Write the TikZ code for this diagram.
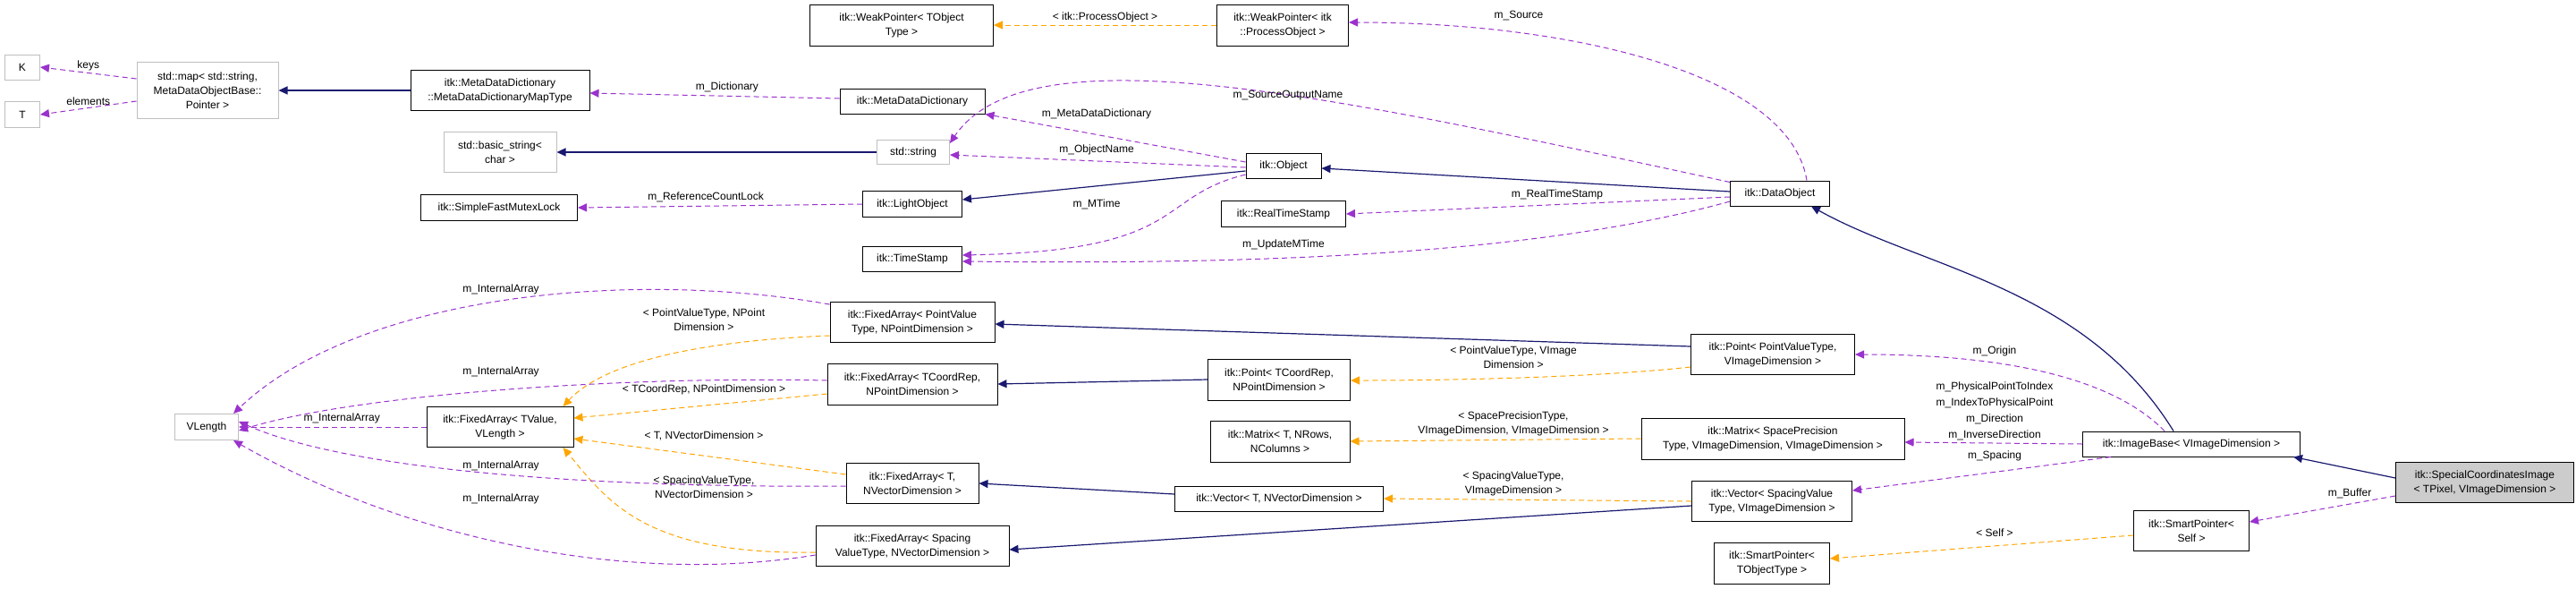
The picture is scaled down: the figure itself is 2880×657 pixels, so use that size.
\documentclass[tikz,border=0pt]{standalone}
\usepackage{fontspec}
\setmainfont{Liberation Sans}
\usetikzlibrary{arrows.meta}
\definecolor{inh}{HTML}{191970}
\definecolor{use}{HTML}{9A32CD}
\definecolor{tpl}{HTML}{FFA500}
\definecolor{gb}{HTML}{BFBFBF}
\begin{document}
\begin{tikzpicture}[x=1pt,y=-1pt,
  every node/.style={font=\fontsize{12}{16}\selectfont, inner sep=0pt, align=center},
  bx/.style={draw=black, line width=1pt, fill=white},
  gbx/.style={draw=gb, line width=1pt, fill=white},
  lbl/.style={fill=none},
  inhe/.style={draw=inh, line width=1.2pt, -{Triangle[length=10pt,width=9pt]}},
  usee/.style={draw=use, line width=1pt, dashed, dash pattern=on 6pt off 4pt, -{Triangle[length=10pt,width=9pt]}},
  tple/.style={draw=tpl, line width=1pt, dashed, dash pattern=on 6pt off 4pt, -{Triangle[length=10pt,width=9pt]}}]
\useasboundingbox (0,0) rectangle (2880,657);
\fill[white] (0,0) rectangle (2880,657);
% nodes
\node[gbx, minimum width=39, minimum height=28] (K) at (25,75) {K};
\node[gbx, minimum width=39, minimum height=29] (T) at (25,128) {T};
\node[gbx, minimum width=158, minimum height=63] (map) at (232,101) {std::map< std::string,\\ MetaDataObjectBase::\\ Pointer >};
\node[bx, minimum width=200, minimum height=45] (mdt) at (559,101) {itk::MetaDataDictionary\\ ::MetaDataDictionaryMapType};
\node[gbx, minimum width=126, minimum height=45] (bstr) at (559,170) {std::basic\_string<\\ char >};
\node[bx, minimum width=175, minimum height=29] (mutex) at (558,232) {itk::SimpleFastMutexLock};
\node[bx, minimum width=205, minimum height=46] (wpt) at (1008,28) {itk::WeakPointer< TObject\\ Type >};
\node[bx, minimum width=147, minimum height=46] (wpp) at (1434,28) {itk::WeakPointer< itk\\ ::ProcessObject >};
\node[bx, minimum width=162, minimum height=28] (mdd) at (1020,113) {itk::MetaDataDictionary};
\node[gbx, minimum width=81, minimum height=27] (str) at (1021,170) {std::string};
\node[bx, minimum width=84, minimum height=28] (obj) at (1435,185) {itk::Object};
\node[bx, minimum width=111, minimum height=29] (light) at (1020,228) {itk::LightObject};
\node[bx, minimum width=139, minimum height=29] (rts) at (1435,239) {itk::RealTimeStamp};
\node[bx, minimum width=111, minimum height=28] (ts) at (1020,289) {itk::TimeStamp};
\node[bx, minimum width=111, minimum height=28] (dobj) at (1990,216) {itk::DataObject};
\node[gbx, minimum width=71, minimum height=29] (vl) at (231,477) {VLength};
\node[bx, minimum width=164, minimum height=45] (fav) at (559,477) {itk::FixedArray< TValue,\\ VLength >};
\node[bx, minimum width=184, minimum height=45] (fapv) at (1020,360) {itk::FixedArray< PointValue\\ Type, NPointDimension >};
\node[bx, minimum width=190, minimum height=46] (facr) at (1020,429) {itk::FixedArray< TCoordRep,\\ NPointDimension >};
\node[bx, minimum width=148, minimum height=45] (fat) at (1020,540) {itk::FixedArray< T,\\ NVectorDimension >};
\node[bx, minimum width=216, minimum height=45] (fasp) at (1020,610) {itk::FixedArray< Spacing\\ ValueType, NVectorDimension >};
\node[bx, minimum width=159, minimum height=46] (pcr) at (1430,424) {itk::Point< TCoordRep,\\ NPointDimension >};
\node[bx, minimum width=156, minimum height=46] (mtx) at (1431,493) {itk::Matrix< T, NRows,\\ NColumns >};
\node[bx, minimum width=233, minimum height=28] (vt) at (1430,557) {itk::Vector< T, NVectorDimension >};
\node[bx, minimum width=183, minimum height=45] (ppv) at (1982,396) {itk::Point< PointValueType,\\ VImageDimension >};
\node[bx, minimum width=294, minimum height=46] (msp) at (1982,490) {itk::Matrix< SpacePrecision\\ Type, VImageDimension, VImageDimension >};
\node[bx, minimum width=179, minimum height=45] (vsp) at (1981,560) {itk::Vector< SpacingValue\\ Type, VImageDimension >};
\node[bx, minimum width=129, minimum height=46] (spt) at (1981,629) {itk::SmartPointer<\\ TObjectType >};
\node[bx, minimum width=243, minimum height=28] (ib) at (2450,496) {itk::ImageBase< VImageDimension >};
\node[bx, fill=gb!80, minimum width=199, minimum height=45] (sci) at (2778,539) {itk::SpecialCoordinatesImage\\ < TPixel, VImageDimension >};
\node[bx, minimum width=129, minimum height=45] (sps) at (2450,593) {itk::SmartPointer<\\ Self >};
% edges
\draw[usee] ([yshift=13pt]map.west) -- (K.east) node[lbl, pos=0.5, above=2pt] {keys};
\draw[usee] ([yshift=-12pt]map.west) -- (T.east) node[lbl, pos=0.5, above=2pt] {elements};
\draw[inhe] (mdt.west) -- (map.east);
\draw[usee] ([yshift=3pt]mdd.west) -- ([yshift=-3pt]mdt.east) node[lbl, pos=0.45, above=4pt] {m\_Dictionary};
\draw[inhe] (str.west) -- (bstr.east);
\draw[usee] (light.west) -- (mutex.east) node[lbl, pos=0.55, above=4pt] {m\_ReferenceCountLock};
\draw[tple] (wpp.west) -- (wpt.east) node[lbl, pos=0.5, above=3pt] {< itk::ProcessObject >};
\draw[usee] ([xshift=30pt]dobj.north) .. controls (2000,80) and (1750,25) .. ([yshift=3pt]wpp.east);
\node[lbl] (lsrc) at (1698,17) {m\_Source};
\draw[usee] ([yshift=-2pt]dobj.north west) .. controls (1500,110) and (1150,30) .. ([yshift=-4pt]str.north east);
\node[lbl] (lson) at (1440,107) {m\_SourceOutputName};
\draw[usee] ([yshift=4pt]obj.west) -- (mdd.south east);
\node[lbl] (lmdd) at (1226,127) {m\_MetaDataDictionary};
\draw[usee] ([yshift=-2pt]obj.west) -- ([yshift=-3pt]str.east);
\node[lbl] (lon) at (1226,167) {m\_ObjectName};
\draw[inhe] ([yshift=-6pt]obj.west) -- ([yshift=5pt]light.east);
\draw[usee] ([yshift=-10pt]obj.west) .. controls (1290,220) and (1330,280) .. ([yshift=4pt]ts.east);
\node[lbl] (lmt) at (1226,228) {m\_MTime};
\draw[inhe] ([yshift=2pt]dobj.west) -- ([yshift=-3pt]obj.east);
\draw[usee] ([yshift=-4pt]dobj.west) -- (rts.east) node[lbl, pos=0.45, above=5pt] {m\_RealTimeStamp};
\draw[usee] ([yshift=-9pt]dobj.west) .. controls (1700,290) and (1350,295) .. ([yshift=-3pt]ts.east);
\node[lbl] (lum) at (1435,273) {m\_UpdateMTime};
\draw[inhe] ([xshift=-20pt]ib.north) .. controls (2330,320) and (2150,300) .. ([xshift=35pt]dobj.south);
\draw[inhe] ([yshift=5pt]sci.west) -- ([xshift=-8pt]ib.south east);
\draw[usee] ([yshift=-15pt]sci.west) -- ([yshift=10pt]sps.east);
\node[lbl] (lbuf) at (2627,551) {m\_Buffer};
\draw[tple] ([yshift=-5pt]sps.west) -- ([yshift=5pt]spt.east);
\node[lbl] (lself) at (2230,595) {< Self >};
\draw[usee] ([xshift=-30pt]ib.north) .. controls (2350,410) and (2200,396) .. (ppv.east);
\node[lbl] (lorg) at (2230,392) {m\_Origin};
\draw[usee] (ib.west) -- ([yshift=-4pt]msp.east);
\node[lbl, font=\fontsize{12}{18}\selectfont] (lmat) at (2230,459) {m\_PhysicalPointToIndex\\ m\_IndexToPhysicalPoint\\ m\_Direction\\ m\_InverseDirection};
\draw[usee] ([xshift=-90pt]ib.south) -- ([yshift=12pt]vsp.east);
\node[lbl] (lspc) at (2230,509) {m\_Spacing};
\draw[inhe] ([yshift=9pt]ppv.west) -- ([yshift=-2pt]fapv.east);
\draw[tple] ([yshift=-14pt]ppv.west) .. controls (1800,420) and (1650,425) .. ([yshift=-1pt]pcr.east);
\node[lbl] (lppv) at (1692,399) {< PointValueType, VImage\\ Dimension >};
\draw[tple] (msp.west) -- (mtx.east);
\node[lbl] (lmsp) at (1692,473) {< SpacePrecisionType,\\ VImageDimension, VImageDimension >};
\draw[tple] (vsp.west) -- (vt.east);
\node[lbl] (lvsp) at (1692,540) {< SpacingValueType,\\ VImageDimension >};
\draw[inhe] ([yshift=-5pt]vsp.west) -- ([yshift=-4pt]fasp.east);
\draw[inhe] (pcr.west) -- (facr.east);
\draw[inhe] ([yshift=5pt]vt.west) -- (fat.east);
\draw[tple] ([yshift=-15pt]fapv.west) .. controls (800,380) and (680,400) .. ([xshift=-12pt]fav.north east);
\node[lbl] (lfapv) at (787,357) {< PointValueType, NPoint\\ Dimension >};
\draw[tple] ([yshift=-11pt]facr.west) -- ([yshift=10pt]fav.east);
\node[lbl] (lfacr) at (787,435) {< TCoordRep, NPointDimension >};
\draw[tple] ([yshift=10pt]fat.west) -- ([yshift=-13pt]fav.east);
\node[lbl] (lfat) at (787,487) {< T, NVectorDimension >};
\draw[tple] ([yshift=-7pt]fasp.west) .. controls (720,620) and (680,560) .. ([xshift=-12pt]fav.south east);
\node[lbl] (lfasp) at (787,544) {< SpacingValueType,\\ NVectorDimension >};
\draw[usee] (fav.west) -- (vl.east) node[lbl, pos=0.45, above=4pt] {m\_InternalArray};
\draw[usee] ([yshift=-3pt]fapv.north west) .. controls (700,300) and (400,330) .. ([xshift=-6pt]vl.north east);
\node[lbl] (li1) at (560,323) {m\_InternalArray};
\draw[usee] ([yshift=4pt]facr.west) .. controls (700,420) and (400,440) .. ([yshift=-4pt]vl.east);
\node[lbl] (li2) at (560,415) {m\_InternalArray};
\draw[usee] ([yshift=-3pt]fat.west) .. controls (700,545) and (400,530) .. ([yshift=6pt]vl.east);
\node[lbl] (li3) at (560,520) {m\_InternalArray};
\draw[usee] ([yshift=-10pt]fasp.west) .. controls (700,655) and (450,600) .. ([xshift=-6pt]vl.south east);
\node[lbl] (li4) at (560,557) {m\_InternalArray};
\end{tikzpicture}
\end{document}
